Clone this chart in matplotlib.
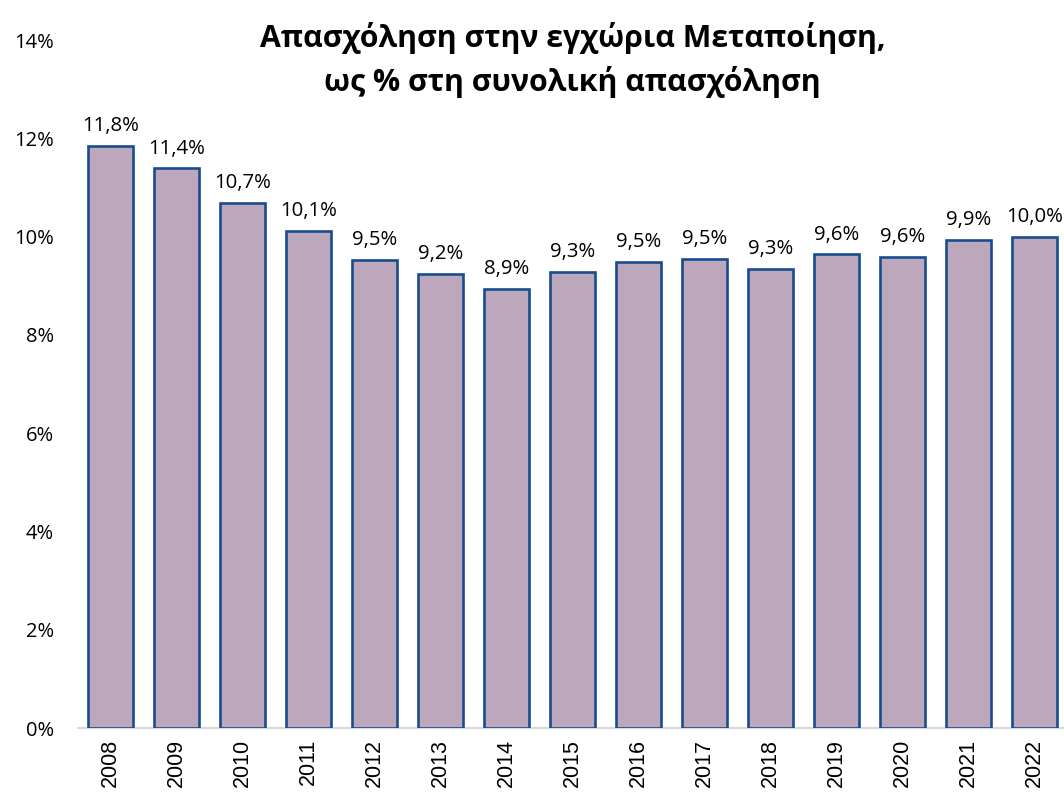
import numpy as np
import matplotlib.pyplot as plt
from matplotlib.ticker import FuncFormatter

years = ['2008', '2009', '2010', '2011', '2012', '2013', '2014', '2015',
         '2016', '2017', '2018', '2019', '2020', '2021', '2022']
share = [11.84, 11.39, 10.68, 10.11, 9.52, 9.24, 8.94, 9.28,
         9.48, 9.54, 9.34, 9.64, 9.59, 9.94, 9.99]  # % of total employment
title = 'Απασχόληση στην εγχώρια Μεταποίηση,\nως % στη συνολική απασχόληση'

plt.rcParams['font.family'] = ['Open Sans', 'DejaVu Sans']

fig = plt.figure(figsize=(10.64, 7.94), dpi=100)
ax = fig.add_axes([77.5 / 1064, 66 / 794, 990 / 1064, 688 / 794])

x = np.arange(len(years))
vals = np.array(share) / 100
ax.bar(x, vals, width=0.68, color='#bda7bd', edgecolor='#174d8f', linewidth=1.9, zorder=3)

for xi, v in zip(x, vals):
    ax.annotate(f'{v * 100:.1f}%'.replace('.', ','), (xi, v), xytext=(0, 7),
                textcoords='offset points', ha='center', va='bottom', fontsize=14.7)

ax.set_xlim(-0.5, len(years) - 0.5)
ax.set_ylim(0, 0.14)
ax.set_yticks(np.arange(0, 0.141, 0.02))
ax.yaxis.set_major_formatter(FuncFormatter(lambda v, p: f'{v * 100:.0f}%'))
ax.set_xticks(x)
ax.set_xticklabels(years, rotation=90, family=['Liberation Sans', 'DejaVu Sans'], fontsize=15.5)
ax.tick_params(axis='y', length=0, pad=17, labelsize=14.5)
ax.tick_params(axis='x', length=0, pad=8)

for s in ['top', 'right', 'left']:
    ax.spines[s].set_visible(False)
ax.spines['bottom'].set_color('#d9d9d9')
ax.spines['bottom'].set_linewidth(1.5)

fig.text(0.538, 1 - 60 / 794, title, ha='center', va='center',
         fontsize=21.8, fontweight='bold', linespacing=1.45)

fig.savefig('out.png', dpi=100)
